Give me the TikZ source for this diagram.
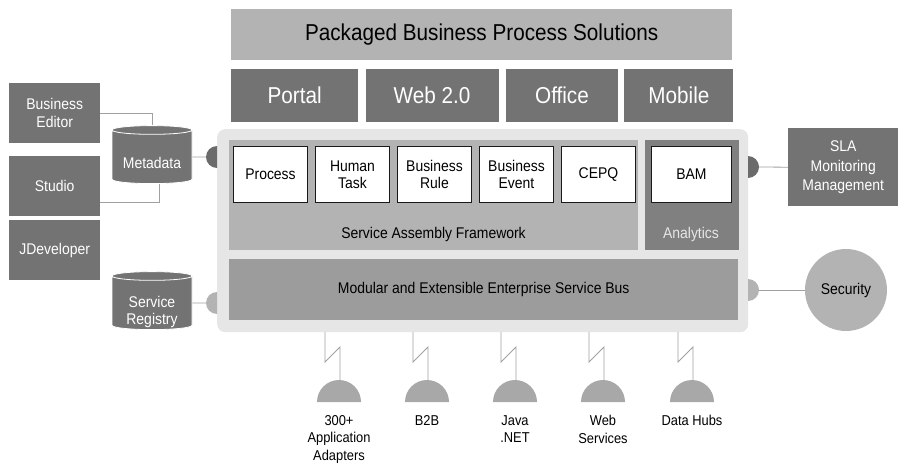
\documentclass[tikz,border=0pt]{standalone}
\usepackage{fontspec}
\setmainfont{Liberation Sans}[FakeStretch=0.9]
\usetikzlibrary{positioning,shapes.geometric}
\definecolor{paleGray}{HTML}{E6E6E6}
\definecolor{midGray}{HTML}{B3B3B3}
\definecolor{darkGray}{HTML}{737373}
\definecolor{portGray}{HTML}{6B6B6B}
\definecolor{busGray}{HTML}{9C9C9C}
\definecolor{anaGray}{HTML}{808080}
\definecolor{wireGray}{HTML}{A0A0A0}
\definecolor{domeGray}{HTML}{A8A8A8}

\begin{document}
\begin{tikzpicture}[
        x=1pt, y=-1pt,
        every node/.style={font=\fontsize{15.5}{17.5}\selectfont, inner sep=0pt, align=center},
        big/.style={font=\fontsize{23}{25}\selectfont},
        small/.style={font=\fontsize{14.3}{17.5}\selectfont},
        darkbox/.style={
            fill=darkGray,
            text=white,
            anchor=north west
        },
        lightbox/.style={
            fill=midGray,
            anchor=north west
        },
        module/.style={
            draw=black!90,
            line width=1pt,
            fill=white,
            minimum width=74pt,
            minimum height=56pt,
            anchor=north west
        },
        dbase/.style={
            cylinder,
            shape border rotate=90,
            aspect=0.15,
            draw=white,
            line width=0.8pt,
            fill=darkGray,
            minimum width=80pt,
            minimum height=58pt
        },
        wire/.style={draw=wireGray, line width=0.8pt}
    ]
        \useasboundingbox (0,0) rectangle (898,463);

        % Top layers
        \node[lightbox, big, minimum width=501pt, minimum height=51pt] (pbps) at (231,9) {Packaged Business Process Solutions};
        \node[darkbox, big, minimum width=127pt, minimum height=53pt] (portal) at (231,69) {Portal};
        \node[darkbox, big, minimum width=133pt, minimum height=53pt, right=7pt of portal] (web) {Web 2.0};
        \node[darkbox, big, minimum width=112pt, minimum height=53pt, right=7pt of web] (office) {Office};
        \node[darkbox, big, minimum width=109pt, minimum height=53pt, right=6pt of office] (mobile) {Mobile};

        % Platform frame
        \node[fill=paleGray, rounded corners=8pt, minimum width=531pt, minimum height=203pt, anchor=north west] (frame) at (217,129) {};
        \node[lightbox, minimum width=409pt, minimum height=110pt] (saf) at (229,140) {};
        \node[fill=anaGray, minimum width=94pt, minimum height=110pt, right=6pt of saf] (analytics) {};
        \node (saflabel) at (433.5,234) {Service Assembly Framework};
        \node[text=paleGray] (analabel) at (691,234) {Analytics};
        \node[fill=busGray, minimum width=509pt, minimum height=61pt, anchor=north west] (esb) at (229,259) {Modular and Extensible Enterprise Service Bus};

        % Engines
        \node[module] (process) at (233,146) {Process};
        \node[module, right=7pt of process] (htask) {Human\\Task};
        \node[module, right=7pt of htask] (brule) {Business\\Rule};
        \node[module, right=7pt of brule] (bevent) {Business\\Event};
        \node[module, right=7pt of bevent] (cepq) {CEPQ};
        \node[module, minimum width=80pt] (bam) at (651,146) {BAM};

        % Tools and repositories
        \node[darkbox, minimum width=91pt, minimum height=60pt] (beditor) at (9,83) {Business\\Editor};
        \node[darkbox, minimum width=91pt, minimum height=60pt] (studio) at (9,156) {Studio};
        \node[darkbox, minimum width=91pt, minimum height=60pt] (jdev) at (9,220) {JDeveloper};
        \node[dbase] (meta) at (152,157) {\phantom{Metadata}};
        \node[dbase] (sreg) at (152,303) {\phantom{Metadata}};
        \node[text=white] (metalabel) at ([yshift=-6pt]meta.center) {Metadata};
        \node[text=white] (sreglabel) at ([yshift=-9pt]sreg.center) {Service\\Registry};

        % Management
        \node[darkbox, minimum width=110pt, minimum height=78pt, font=\fontsize{15.5}{19.5}\selectfont] (sla) at (788,128) {SLA\\Monitoring\\Management};
        \node[circle, fill=midGray, minimum size=82pt] (security) at (846,290) {Security};

        % Ports on the frame
        \coordinate (pMeta) at (206,157);
        \coordinate (pReg) at (206,303);
        \coordinate (pSla) at (759,167);
        \coordinate (pSec) at (759,290);
        \fill[portGray] (217,146) arc[start angle=270, end angle=90, radius=11] -- cycle;
        \fill[midGray] (217,292) arc[start angle=270, end angle=90, radius=11] -- cycle;
        \fill[portGray] (748,156) arc[start angle=270, end angle=450, radius=11] -- cycle;
        \fill[midGray] (748,279) arc[start angle=270, end angle=450, radius=11] -- cycle;

        \draw[wire] (beditor.east) -| (meta.north);
        \draw[wire] (studio.east) ++(0,16) -| ([xshift=7pt]meta.south);
        \draw[wire] (meta.east) -- (pMeta);
        \draw[wire] (sreg.east) -- (pReg);
        \draw[wire] (pSla) -- (sla.west);
        \draw[wire] (pSec) -- (security.west);

        % Adapters below the bus
        \foreach \cx/\name/\txt in {339/adapters/{300+\\Application\\Adapters}, 427/btob/B2B, 515/java/{Java\\.NET}, 603/websvc/{Web\\Services}, 692/hubs/{Data Hubs}} {
            \fill[domeGray] (\cx-22,402) arc[start angle=180, end angle=360, radius=22] -- cycle;
            \coordinate (\name-tap) at (\cx-14,332);
            \coordinate (\name-dome) at (\cx+1,380);
            \draw[wire] (\name-tap) -- ++(0,30) -- ++(15,-15) -- (\name-dome);
            \node[small, anchor=north] (\name) at (\cx,415) {\txt};
        }

    \end{tikzpicture}
\end{document}
